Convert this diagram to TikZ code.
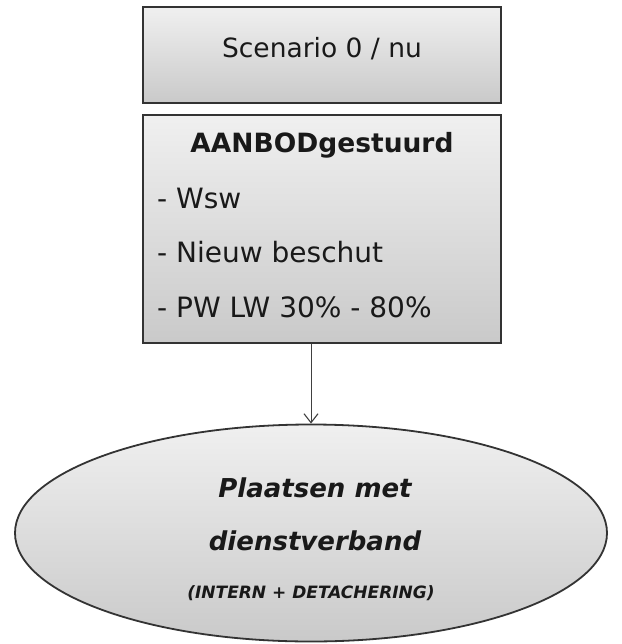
\documentclass[tikz,border=0pt]{standalone}
\usepackage{fontspec}
\setmainfont{DejaVu Sans}
\usetikzlibrary{shapes.geometric, arrows.meta, positioning}

\begin{document}
\begin{tikzpicture}[x=1pt, y=-1pt,
    grijs/.style={draw=black!80, line width=1.8pt, top color=gray!12, bottom color=gray!42},
    vak/.style={grijs, rectangle, minimum width=358pt, inner sep=0pt},
    tekst/.style={font=\fontsize{26.5}{32}\selectfont, text=black!90, inner sep=0pt, anchor=base}]
    \useasboundingbox (0,0) rectangle (621,644);

    % Scenario
    \node[vak, minimum height=96pt] (scenario) at (322, 55) {};
    \node[tekst] (scentekst) at (322, 58) {Scenario 0 / nu};

    % Aanbodgestuurd
    \node[vak, minimum height=228pt] (aanbod) at (322, 229) {};
    \node[tekst, font=\fontsize{26.5}{32}\selectfont\bfseries] (titel) at (322, 153) {AANBODgestuurd};
    \node[tekst, anchor=base west, font=\fontsize{28}{32}\selectfont] (wsw) at (157, 208) {- Wsw};
    \node[tekst, anchor=base west, font=\fontsize{28}{32}\selectfont] (beschut) at (157, 262) {- Nieuw beschut};
    \node[tekst, anchor=base west, font=\fontsize{28}{32}\selectfont] (pwlw) at (157, 317) {- PW LW 30\% - 80\%};

    % Plaatsen
    \node[grijs, ellipse, minimum width=592pt, minimum height=217pt, inner sep=0pt] (plaatsen) at (311, 533) {};
    \node[tekst, font=\fontsize{26}{32}\selectfont\bfseries\itshape] (plaats1) at (315, 497) {Plaatsen met};
    \node[tekst, font=\fontsize{26}{32}\selectfont\bfseries\itshape] (plaats2) at (315, 550) {dienstverband};
    \node[tekst, font=\fontsize{17}{20}\selectfont\bfseries\itshape] (plaats3) at (311, 598) {(INTERN + DETACHERING)};

    \draw[-{Straight Barb[length=9pt, width=14pt, line width=1.1pt]}, gray!50!black, line width=1pt] (aanbod.south -| plaatsen.north) -- (plaatsen.north);
\end{tikzpicture}
\end{document}
